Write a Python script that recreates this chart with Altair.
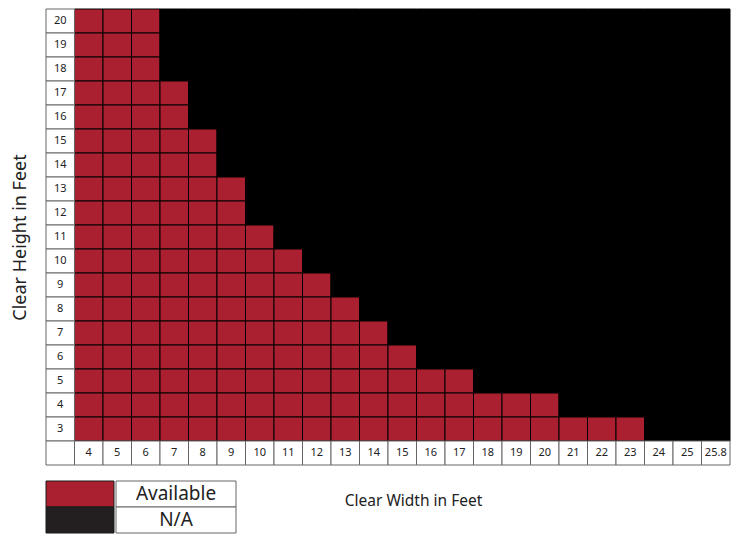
import altair as alt
import pandas as pd

# ---- data ----
widths = ["4", "5", "6", "7", "8", "9", "10", "11", "12", "13", "14", "15", "16",
          "17", "18", "19", "20", "21", "22", "23", "24", "25", "25.8"]
heights = list(range(20, 2, -1))  # 20 .. 3
# highest available clear height for each clear width (0 = none)
max_height = [20, 20, 20, 17, 15, 13, 11, 10, 9, 8, 7, 6, 5, 5, 4, 4, 4, 3, 3, 3, 0, 0, 0]
legend_items = ["Available", "N/A"]

RED = "#ab2030"
BLACK = "#000000"
LEG_BLACK = "#231f20"
FONT = "Noto Sans"
LBL = " "

rows = []
for w, mh in zip(widths, max_height):
    for h in heights:
        rows.append({"w": w, "h": str(h), "status": "Available" if h <= mh else "N/A"})
cells = pd.DataFrame(rows)

lab_rows = [{"w": LBL, "h": str(h), "txt": str(h)} for h in heights]
lab_rows += [{"w": w, "h": LBL, "txt": w} for w in widths]
lab_rows += [{"w": LBL, "h": LBL, "txt": ""}]
labels = pd.DataFrame(lab_rows)

x_dom = [LBL] + widths
y_dom = [str(h) for h in heights] + [LBL]

xs = alt.Scale(domain=x_dom, paddingInner=0, paddingOuter=0)
ys = alt.Scale(domain=y_dom, paddingInner=0, paddingOuter=0)

x_enc = alt.X("w:N", scale=xs, sort=x_dom,
              axis=alt.Axis(labels=False, ticks=False, domain=False, grid=False,
                            title="Clear Width in Feet", titleFont=FONT, titleFontSize=15.5,
                            titleFontWeight="normal", titleColor="#222222",
                            titleX=367, titleY=28))
y_enc = alt.Y("h:N", scale=ys, sort=y_dom,
              axis=alt.Axis(labels=False, ticks=False, domain=False, grid=False,
                            title="Clear Height in Feet", titleFont=FONT, titleFontSize=18,
                            titleFontWeight="normal", titleColor="#222222",
                            titlePadding=17))

color_scale = alt.Scale(domain=legend_items, range=[RED, BLACK])

grid_cells = alt.Chart(cells).mark_rect(stroke="#000000", strokeWidth=1).encode(
    x=x_enc, y=y_enc,
    color=alt.Color("status:N", scale=color_scale, legend=None),
)
label_cells = alt.Chart(labels).mark_rect(fill="white", stroke="#666666", strokeWidth=1).encode(
    x=alt.X("w:N", scale=xs, sort=x_dom), y=alt.Y("h:N", scale=ys, sort=y_dom)
)
label_text = alt.Chart(labels).mark_text(font=FONT, fontSize=11, color="#222222").encode(
    x=alt.X("w:N", scale=xs, sort=x_dom), y=alt.Y("h:N", scale=ys, sort=y_dom),
    text="txt:N",
)
grid = alt.layer(grid_cells, label_cells, label_text).properties(width=684, height=456)

leg_df = pd.DataFrame({"item": legend_items})
ly = alt.Y("item:N", scale=alt.Scale(domain=legend_items, paddingInner=0, paddingOuter=0),
           sort=legend_items, axis=None)
swatch = alt.Chart(leg_df).mark_rect(stroke="#1a1a1a", strokeWidth=1).encode(
    y=ly,
    color=alt.Color("item:N", scale=alt.Scale(domain=legend_items, range=[RED, LEG_BLACK]),
                    legend=None),
).properties(width=68, height=52)
leg_box = alt.Chart(leg_df).mark_rect(fill="white", stroke="#666666", strokeWidth=1).encode(
    y=ly
).properties(width=120, height=52)
leg_txt = alt.Chart(leg_df).mark_text(font=FONT, fontSize=19, color="#222222").encode(
    y=ly, text="item:N"
)
legend = alt.hconcat(swatch, alt.layer(leg_box, leg_txt).properties(width=120, height=52),
                     spacing=0)

chart = alt.vconcat(grid, legend, spacing=16, bounds="flush").resolve_scale(
    color="independent"
).properties(
    padding={"left": 3, "top": 0, "right": 0, "bottom": 0}
).configure_view(stroke=None).configure_concat(spacing=0)

chart.save("out.html", embed_options={"renderer": "svg", "actions": False})
